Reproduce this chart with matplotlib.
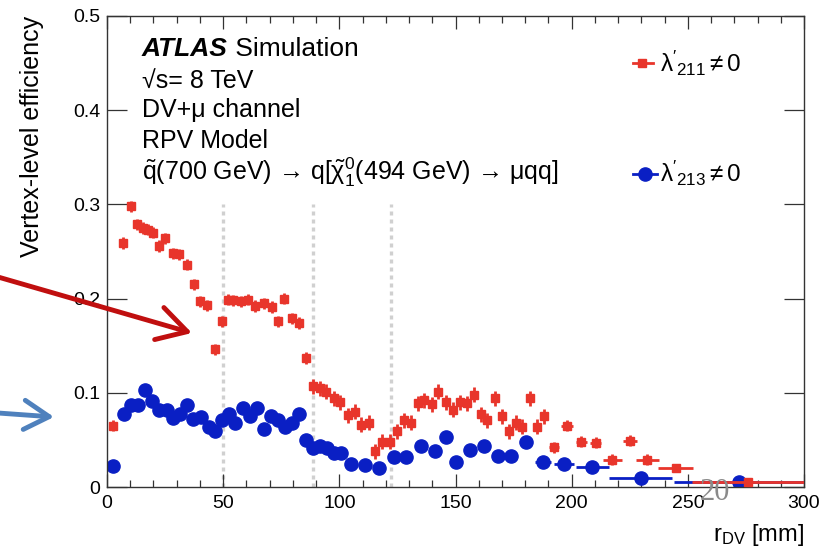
import numpy as np
import matplotlib
matplotlib.use("Agg")
import matplotlib.pyplot as plt
from matplotlib.ticker import MultipleLocator

plt.rcParams['font.family'] = ['Liberation Sans', 'DejaVu Sans']
plt.rcParams['mathtext.fontset'] = 'custom'
plt.rcParams['mathtext.rm'] = 'Liberation Sans'
plt.rcParams['mathtext.it'] = 'Liberation Sans:italic'
plt.rcParams['mathtext.bf'] = 'Liberation Sans:bold'
plt.rcParams['mathtext.default'] = 'regular'

# lambda'_211 (red squares)
red_x = [2.7, 7.0, 10.2, 13.1, 15.4, 17.5, 19.7, 22.3, 25.1, 28.3, 31.2, 34.3,
         37.5, 40.1, 43.2, 46.6, 49.6, 51.9, 54.4, 57.6, 60.9, 63.8, 67.4, 71.0,
         73.6, 76.3, 79.6, 82.8, 85.8, 88.5, 91.5, 94.4, 97.6, 100.4, 103.7, 106.6,
         109.3, 112.6, 115.5, 118.4, 121.7, 124.9, 127.7, 130.9, 133.8, 136.6, 140.0, 142.5,
         145.7, 149.0, 151.9, 155.0, 157.9, 160.8, 163.7, 166.9, 169.8, 173.0, 175.9, 178.8,
         181.9, 184.9, 188.1, 192.4, 198.1, 204.2, 210.3, 217.5, 225.1, 232.6, 244.8, 276.0]
red_y = [0.065, 0.259, 0.298, 0.279, 0.275, 0.273, 0.270, 0.256, 0.264, 0.248, 0.247, 0.236,
         0.215, 0.197, 0.193, 0.146, 0.176, 0.199, 0.198, 0.197, 0.199, 0.192, 0.195, 0.191,
         0.176, 0.200, 0.179, 0.174, 0.137, 0.107, 0.105, 0.101, 0.094, 0.090, 0.076, 0.080,
         0.066, 0.068, 0.038, 0.048, 0.048, 0.059, 0.071, 0.068, 0.089, 0.092, 0.088, 0.101,
         0.090, 0.082, 0.090, 0.089, 0.098, 0.077, 0.071, 0.094, 0.075, 0.059, 0.068, 0.064,
         0.094, 0.064, 0.075, 0.042, 0.065, 0.048, 0.047, 0.029, 0.049, 0.029, 0.020, 0.005]
red_yerr = [0.006] * 29 + [0.008] * 34 + [0.006] * 7 + [0.004] * 2
red_xerr = [1.5] * 63 + [2.0, 2.5, 2.5, 2.5, 4.0, 3.0, 5.0, 7.5, 24.0]

# lambda'_213 (blue circles)
blue_x = [2.7, 7.3, 10.2, 13.5, 16.4, 19.3, 22.5, 25.7, 28.3, 31.5, 34.3, 37.2,
          40.4, 43.7, 46.6, 49.4, 52.3, 55.2, 58.5, 61.6, 64.5, 67.4, 70.6, 73.8,
          76.4, 79.6, 82.8, 85.5, 88.5, 91.8, 94.7, 97.6, 100.7, 105.0, 111.2, 117.2,
          123.7, 128.9, 135.2, 141.1, 145.7, 150.0, 156.2, 162.2, 168.4, 174.1, 180.2, 187.8,
          196.7, 208.9, 229.7, 272.0]
blue_y = [0.022, 0.077, 0.087, 0.087, 0.103, 0.091, 0.082, 0.082, 0.073, 0.078, 0.087, 0.072,
          0.074, 0.064, 0.059, 0.071, 0.077, 0.068, 0.084, 0.075, 0.084, 0.062, 0.075, 0.071,
          0.064, 0.068, 0.077, 0.050, 0.041, 0.043, 0.041, 0.036, 0.036, 0.024, 0.023, 0.020,
          0.032, 0.032, 0.043, 0.038, 0.053, 0.027, 0.039, 0.043, 0.033, 0.033, 0.048, 0.027,
          0.024, 0.021, 0.010, 0.005]
blue_yerr = [0.004] * 52
blue_xerr = [1.5] * 47 + [3.5, 4.5, 7.0, 13.5, 28.0]

# region boundaries (dotted)
bounds = [50, 88.7, 122.4]

xticks = [0, 50, 100, 150, 200, 250, 300]
yticks = [0, 0.1, 0.2, 0.3, 0.4, 0.5]
yticklabels = ["0", "0.1", "0.2", "0.3", "0.4", "0.5"]

RED = "#e8352b"
BLUE = "#0a1fc4"

fig = plt.figure(figsize=(8.21, 5.48), dpi=100)
ax = fig.add_axes([107 / 821, 61 / 548, 697 / 821, 471 / 548])

for b in bounds:
    ax.plot([b, b], [0, 0.3], color="#d0d0d0", lw=2.4, ls=(0, (1.2, 1.2)), zorder=1)

ax.errorbar(red_x, red_y, yerr=red_yerr, xerr=red_xerr, fmt='s', color=RED,
            ms=6.3, elinewidth=2, capsize=0, zorder=3)
ax.errorbar(blue_x, blue_y, yerr=blue_yerr, xerr=blue_xerr, fmt='o', color=BLUE,
            ms=9.5, elinewidth=2, capsize=0, zorder=2)

ax.set_xlim(0, 300)
ax.set_ylim(0, 0.5)
ax.set_xticks(xticks)
ax.set_xticklabels([str(t) for t in xticks])
ax.xaxis.set_minor_locator(MultipleLocator(10))
ax.set_yticks(yticks)
ax.set_yticklabels(yticklabels)
ax.tick_params(axis='both', which='both', direction='in', top=True, right=True,
               width=0.9, labelsize=14, color='#333333')
ax.tick_params(axis='x', which='major', length=9.5, pad=6)
ax.tick_params(axis='x', which='minor', length=5)
ax.tick_params(axis='y', which='major', length=14.5, pad=5)
for s in ax.spines.values():
    s.set_linewidth(1.0)
    s.set_color('#333333')

ax.set_ylabel("Vertex-level efficiency", fontsize=18, loc='top')
ax.yaxis.set_label_coords(-0.090, 1.0)
ax.set_xlabel(r"r$_{DV}$ [mm]", fontsize=17, loc='right')
ax.xaxis.set_label_coords(1.0, -0.074)

# annotation block
t1 = ax.text(0.050, 0.915, "ATLAS", transform=ax.transAxes, fontsize=19,
             fontweight='bold', fontstyle='italic', va='baseline')
ax.annotate(" Simulation", xy=(1, 0), xycoords=t1, fontsize=19, va='bottom')
ax.text(0.050, 0.847, "√s= 8 TeV", transform=ax.transAxes, fontsize=18, va='baseline')
ax.text(0.050, 0.786, "DV+μ channel", transform=ax.transAxes, fontsize=18, va='baseline')
ax.text(0.050, 0.720, "RPV Model", transform=ax.transAxes, fontsize=18, va='baseline')
ax.text(0.050, 0.652,
        r"$\tilde{q}$(700 GeV) → q[$\tilde{\chi}^0_1$(494 GeV) → μqq]",
        transform=ax.transAxes, fontsize=18, va='baseline')

# legend entries
ax.plot([0.755, 0.783], [0.900, 0.900], color=RED, lw=2, transform=ax.transAxes)
ax.plot([0.768], [0.900], 's', color=RED, ms=6.3, transform=ax.transAxes)
ax.text(0.793, 0.900, r"$\lambda'_{211}\neq 0$", transform=ax.transAxes,
        fontsize=17.5, va='center')
ax.plot([0.755, 0.789], [0.665, 0.665], color=BLUE, lw=2, transform=ax.transAxes)
ax.plot([0.772], [0.665], 'o', color=BLUE, ms=9.5, transform=ax.transAxes)
ax.text(0.793, 0.665, r"$\lambda'_{213}\neq 0$", transform=ax.transAxes,
        fontsize=17.5, va='center')

# slide arrows
ax.annotate("", xy=(192, 215), xycoords='figure pixels', xytext=(-2, 271),
            textcoords='figure pixels', annotation_clip=False,
            arrowprops=dict(arrowstyle='->,head_length=0.7,head_width=0.4',
                            lw=3.5, color='#c00f0f', mutation_scale=30,
                            shrinkA=0, shrinkB=0))
ax.annotate("", xy=(54, 131), xycoords='figure pixels', xytext=(-2, 135),
            textcoords='figure pixels', annotation_clip=False,
            arrowprops=dict(arrowstyle='->,head_length=0.6,head_width=0.35',
                            lw=3.5, color='#4f81bd', mutation_scale=30,
                            shrinkA=0, shrinkB=0))

fig.text(0.871, 0.102, "20", fontfamily='Liberation Serif', color='#8a8a8a',
         fontsize=22, ha='center', va='center')

fig.savefig("out.png", dpi=100)
